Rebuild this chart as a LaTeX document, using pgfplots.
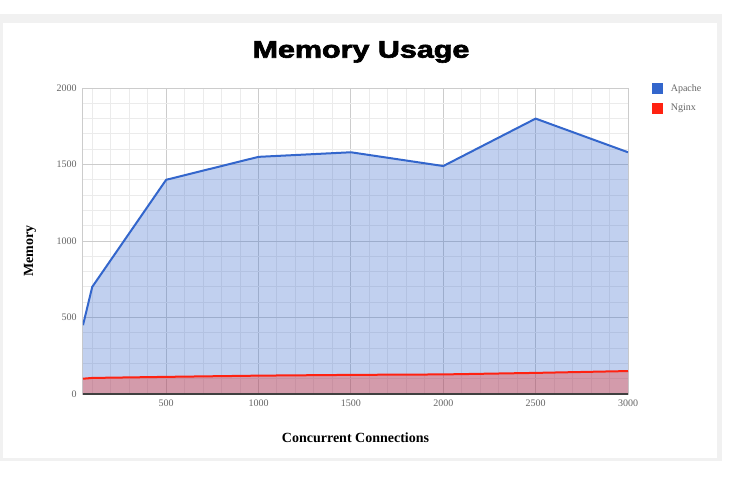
\documentclass[border=0pt]{standalone}
\usepackage{pgfplots}
\pgfplotsset{compat=1.18}
\usepackage{fontspec}
\setmainfont{Liberation Serif}
\newfontfamily\titlefont{Liberation Sans}[BoldFeatures={FakeBold=2.5}]
\definecolor{apache}{HTML}{3366CC}
\definecolor{nginx}{HTML}{FF2211}
\definecolor{gridminor}{HTML}{EBEBEB}
\definecolor{gridmajor}{HTML}{CCCCCC}
\definecolor{ticktext}{HTML}{666666}
\definecolor{shadow}{HTML}{F1F1F1}
\pgfplotstableread{
conn apache nginx
50   450  100
100  700  105
500  1400 112
1000 1550 120
1500 1580 125
2000 1490 128
2500 1800 138
3000 1580 150
}\memdata
\begin{document}
\begin{tikzpicture}
% page: 738 x 476 px, 1px = 0.75pt
\path[use as bounding box, fill=white] (0,0) rectangle (553.5pt,357pt);
\fill[shadow] (0,11.25pt) rectangle (541.5pt,346.5pt);
\fill[white] (2.25pt,13.5pt) rectangle (537.75pt,339.75pt);
\node[font=\titlefont\bfseries\fontsize{18}{20}\selectfont, xscale=1.27] at (270.75pt,318pt) {Memory Usage};
\begin{axis}[
  at={(62.25pt,61.5pt)}, anchor=south west,
  scale only axis, width=408.75pt, height=229.5pt,
  xmin=50, xmax=3000, ymin=0, ymax=2000,
  xtick={500,1000,...,3000}, ytick={0,500,...,2000},
  minor xtick={100,200,...,2900}, minor ytick={100,200,...,1900},
  grid=both,
  major grid style={draw=gridmajor, line width=0.75pt},
  minor grid style={draw=gridminor, line width=0.75pt},
  major tick length=0pt, minor tick length=0pt,
  axis line style={draw=gridmajor, line width=0.75pt},
  /pgf/number format/assume math mode=true,
  /pgf/number format/1000 sep={},
  tick label style={font=\fontsize{7.5}{9}\selectfont, text=ticktext, inner sep=0pt},
  xticklabel style={anchor=north, yshift=-4.5pt},
  yticklabel style={anchor=east, xshift=-4.5pt},
  xlabel={Concurrent Connections},
  ylabel={Memory},
  label style={font=\bfseries\fontsize{10.5}{12}\selectfont},
  x label style={at={(axis description cs:0.5,0)}, anchor=center, yshift=-33pt},
  y label style={at={(axis description cs:-0.0972,0.467)}, anchor=center},
  legend style={at={(axis description cs:1,1)}, anchor=north west, xshift=18pt, yshift=3.75pt,
    draw=none, fill=none, inner sep=0pt, row sep=7pt,
    font=\fontsize{7.5}{9}\selectfont, text=ticktext,
    nodes={inner sep=0pt}},
  legend cell align=left,
]
% areas
\addplot[draw=none, fill=apache, fill opacity=0.3, forget plot] table[x=conn, y=apache] {\memdata} \closedcycle;
\addplot[draw=none, fill=nginx, fill opacity=0.3, forget plot] table[x=conn, y=nginx] {\memdata} \closedcycle;
% lines
\addplot[draw=apache, line width=1.5pt, forget plot] table[x=conn, y=apache] {\memdata};
\addplot[draw=nginx, line width=1.5pt, forget plot] table[x=conn, y=nginx] {\memdata};
% baseline
\draw[black!75, line width=0.9pt] (rel axis cs:0,0) -- (rel axis cs:1,0);
\addlegendimage{legend image code/.code={\fill[apache] (0pt,-3.75pt) rectangle (7.5pt,3.75pt); \path (0pt,0pt) (13.5pt,0pt);}}
\addlegendentry{Apache}
\addlegendimage{legend image code/.code={\fill[nginx] (0pt,-3.75pt) rectangle (7.5pt,3.75pt); \path (0pt,0pt) (13.5pt,0pt);}}
\addlegendentry{Nginx}
\end{axis}
\end{tikzpicture}
\end{document}
